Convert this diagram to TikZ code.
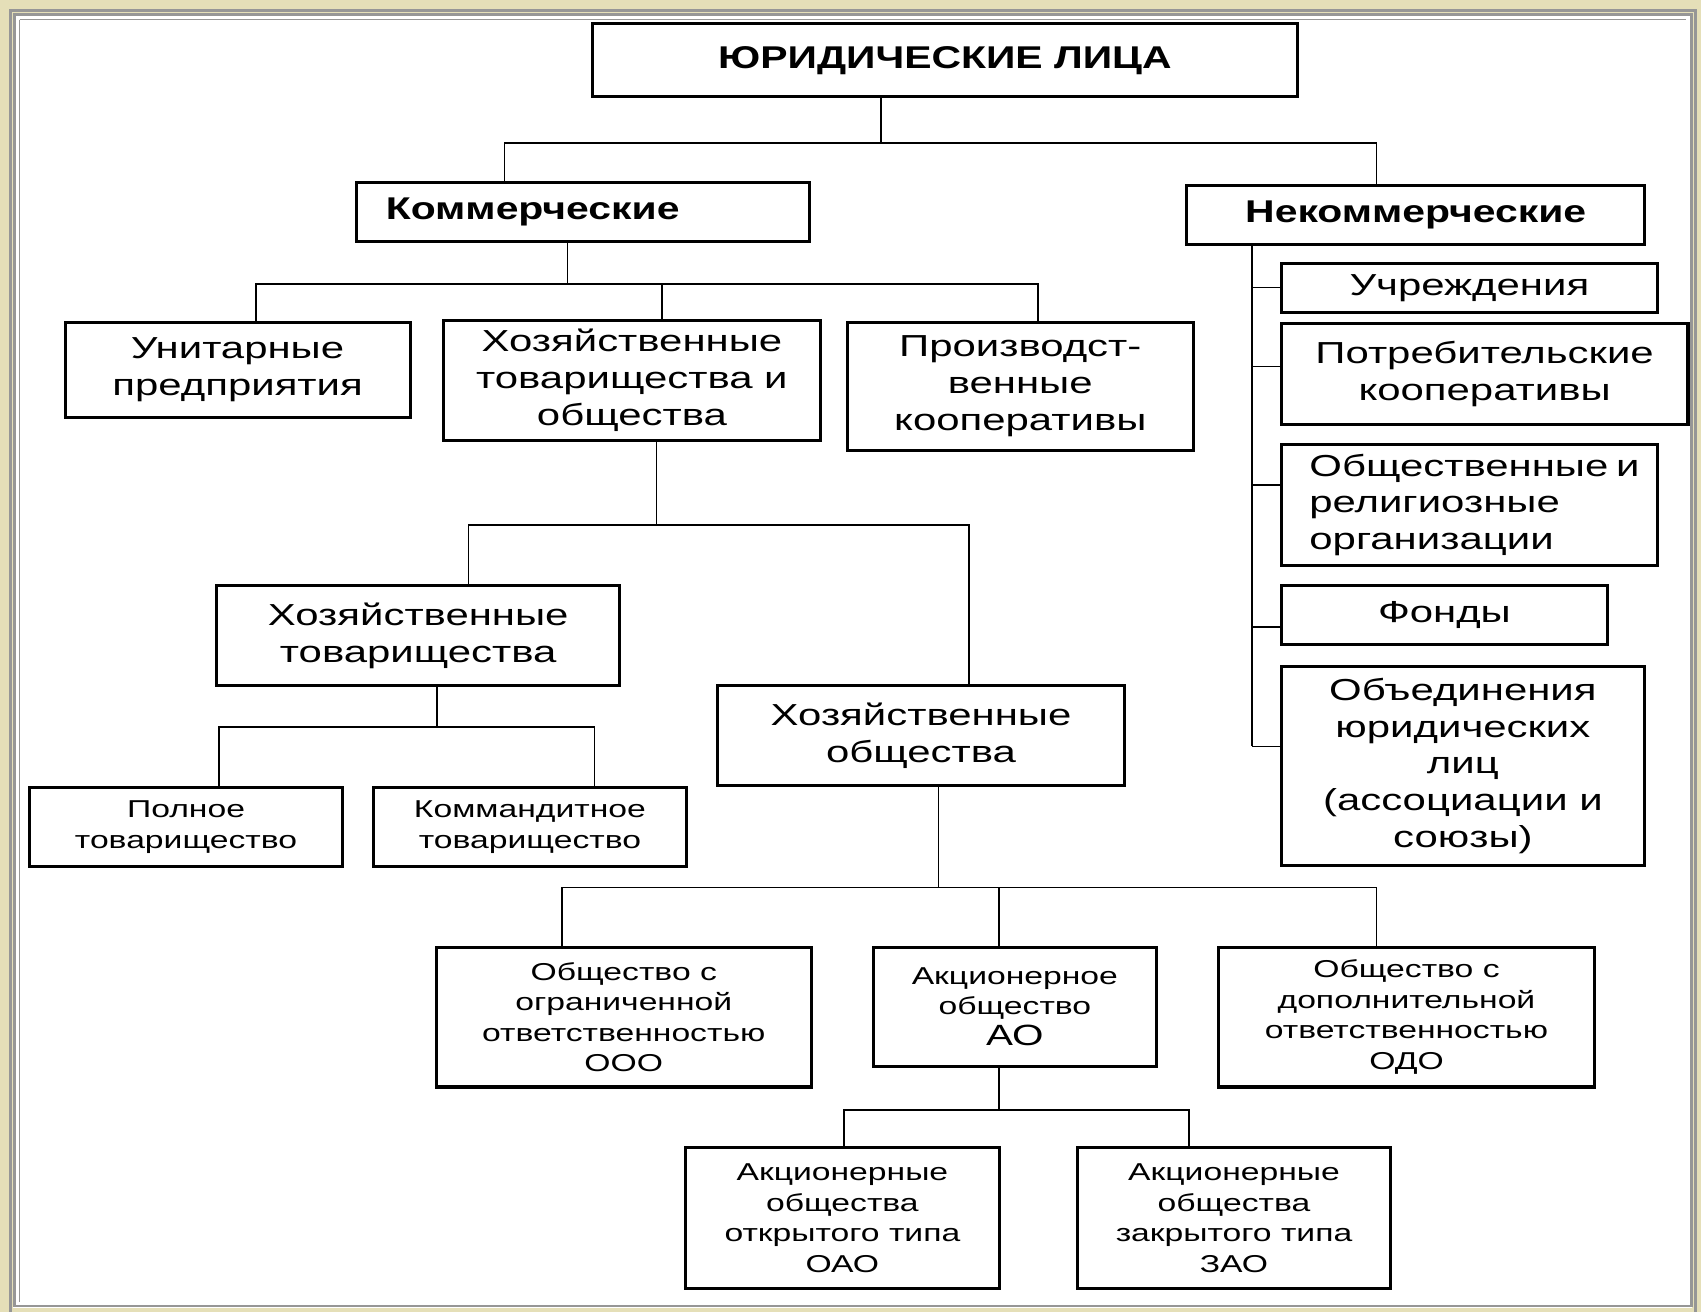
\documentclass[tikz,border=0pt]{standalone}
\usepackage{fontspec}
\setmainfont{Liberation Sans}[FakeStretch=1.38]
\newfontfamily\headfont{Liberation Sans}[FakeStretch=1.3]
\usetikzlibrary{positioning}

\definecolor{beige}{RGB}{229,223,184}
\definecolor{framegray}{RGB}{150,150,150}

\begin{document}
\begin{tikzpicture}[
		x=1pt, y=-1pt,
		box/.style={draw, line width=2.8pt, inner sep=0pt, align=center},
		bigtext/.style={font=\fontsize{28}{34}\selectfont},
		smalltext/.style={font=\fontsize{22.5}{28}\selectfont},
		headtext/.style={font=\fontsize{29}{34}\headfont\bfseries},
		link/.style={line width=1.4pt}
	]
		\useasboundingbox (0,0) rectangle (1568,1209);
		% frame
		\fill[beige] (0,0) rectangle (1568,1209);
		\draw[framegray, line width=3pt] (9.5,9.5) rectangle (1563,1212);
		\fill[white] (12,12) rectangle (1560,1206);
		\draw[framegray, line width=2.5pt] (13.5,13.5) rectangle (1559,1204);
		\fill[white] (16,16) rectangle (1556,1202);
		\draw[framegray, line width=1.5pt] (18,18) -- (1554,18) (18,18) -- (18,1200);

		% boxes
		\node[box, headtext, minimum width=650, minimum height=67] (title) at (871,55.5) {ЮРИДИЧЕСКИЕ ЛИЦА};
		\node[box, headtext, minimum width=417, minimum height=55] (kom) at (537.5,195.5) {\hspace*{-93pt}Коммерческие};
		\node[box, headtext, minimum width=422, minimum height=54] (nek) at (1305,198) {Некоммерческие};

		\node[box, bigtext, minimum width=318, minimum height=88] (unit) at (219,341) {Унитарные\\предприятия};
		\node[box, bigtext, minimum width=347, minimum height=111] (hto) at (582.5,350.5) {Хозяйственные\\товарищества и\\общества};
		\node[box, bigtext, minimum width=319, minimum height=118] (proizv) at (940.5,356) {Производст-\\венные\\кооперативы};

		\node[box, bigtext, minimum width=371, minimum height=92] (htov) at (385.5,586) {Хозяйственные\\товарищества};
		\node[box, bigtext, minimum width=376, minimum height=92] (hobsh) at (849,678) {Хозяйственные\\общества};

		\node[box, smalltext, minimum width=289, minimum height=73] (poln) at (171.5,762.5) {Полное\\товарищество};
		\node[box, smalltext, minimum width=289, minimum height=73] (komand) at (488.5,762.5) {Коммандитное\\товарищество};

		\node[box, smalltext, minimum width=346, minimum height=129] (ooo) at (575,937.5) {Общество с\\ограниченной\\ответственностью\\ООО};
		\node[box, smalltext, minimum width=261, minimum height=110] (ao) at (935.5,928) {Акционерное\\общество\\{\fontsize{27}{32}\selectfont АО}};
		\node[box, smalltext, minimum width=347, minimum height=129] (odo) at (1296.5,937.5) {Общество с\\дополнительной\\ответственностью\\ОДО};

		\node[box, smalltext, minimum width=289, minimum height=130] (oao) at (776.5,1123) {Акционерные\\общества\\открытого типа\\ОАО};
		\node[box, smalltext, minimum width=289, minimum height=130] (zao) at (1137.5,1123) {Акционерные\\общества\\закрытого типа\\ЗАО};

		\node[box, bigtext, minimum width=347, minimum height=45] (uchr) at (1354.5,265.5) {Учреждения};
		\node[box, bigtext, minimum width=375, minimum height=93] (potr) at (1368.5,344.5) {Потребительские\\кооперативы};
		\node[box, bigtext, minimum width=347, minimum height=111] (obsh) at (1354.5,465.5) {\parbox{295pt}{\hbadness=10000\hfuzz=200pt Общественные~и\\религиозные\\организации}};
		\node[box, bigtext, minimum width=301, minimum height=54] (fond) at (1331.5,567) {Фонды};
		\node[box, bigtext, minimum width=335, minimum height=184] (obed) at (1348.5,706) {Объединения\\юридических\\лиц\\(ассоциации и\\союзы)};

		% top level
		\coordinate (j0) at (812,132);
		\coordinate (j0l) at (465,132);
		\coordinate (j0r) at (1269,132);
		\draw[link] (title.south -| j0) -- (j0);
		\draw[link] (kom.north -| j0l) -- (j0l) -- (j0r) -- (nek.north -| j0r);

		% commercial
		\coordinate (j1) at (523,262);
		\coordinate (j1l) at (236,262);
		\coordinate (j1m) at (610,262);
		\coordinate (j1r) at (957,262);
		\draw[link] (kom.south -| j1) -- (j1);
		\draw[link] (unit.north -| j1l) -- (j1l) -- (j1r) -- (proizv.north -| j1r);
		\draw[link] (hto.north -| j1m) -- (j1m);

		\coordinate (j2) at (605,484);
		\coordinate (j2l) at (432,484);
		\coordinate (j2r) at (893,484);
		\draw[link] (hto.south -| j2) -- (j2);
		\draw[link] (htov.north -| j2l) -- (j2l) -- (j2r) -- (hobsh.north -| j2r);

		\coordinate (j3) at (403,670);
		\coordinate (j3l) at (202,670);
		\coordinate (j3r) at (548,670);
		\draw[link] (htov.south -| j3) -- (j3);
		\draw[link] (poln.north -| j3l) -- (j3l) -- (j3r) -- (komand.north -| j3r);

		\coordinate (j4) at (865,818);
		\coordinate (j4l) at (518,818);
		\coordinate (j4m) at (921,818);
		\coordinate (j4r) at (1269,818);
		\draw[link] (hobsh.south -| j4) -- (j4);
		\draw[link] (ooo.north -| j4l) -- (j4l) -- (j4r) -- (odo.north -| j4r);
		\draw[link] (ao.north -| j4m) -- (j4m);

		\coordinate (j5) at (921,1023);
		\coordinate (j5l) at (778,1023);
		\coordinate (j5r) at (1096,1023);
		\draw[link] (ao.south -| j5) -- (j5);
		\draw[link] (oao.north -| j5l) -- (j5l) -- (j5r) -- (zao.north -| j5r);

		% non-commercial
		\coordinate (tr) at (1154,688);
		\draw[link] (nek.south -| tr) -- (tr);
		\foreach \n/\y in {uchr/265, potr/338, obsh/447, fond/578, obed/688} {
			\coordinate (tr\n) at (1154,\y);
			\draw[link] (tr\n) -- (\n.west |- tr\n);
		}
	\end{tikzpicture}
\end{document}
